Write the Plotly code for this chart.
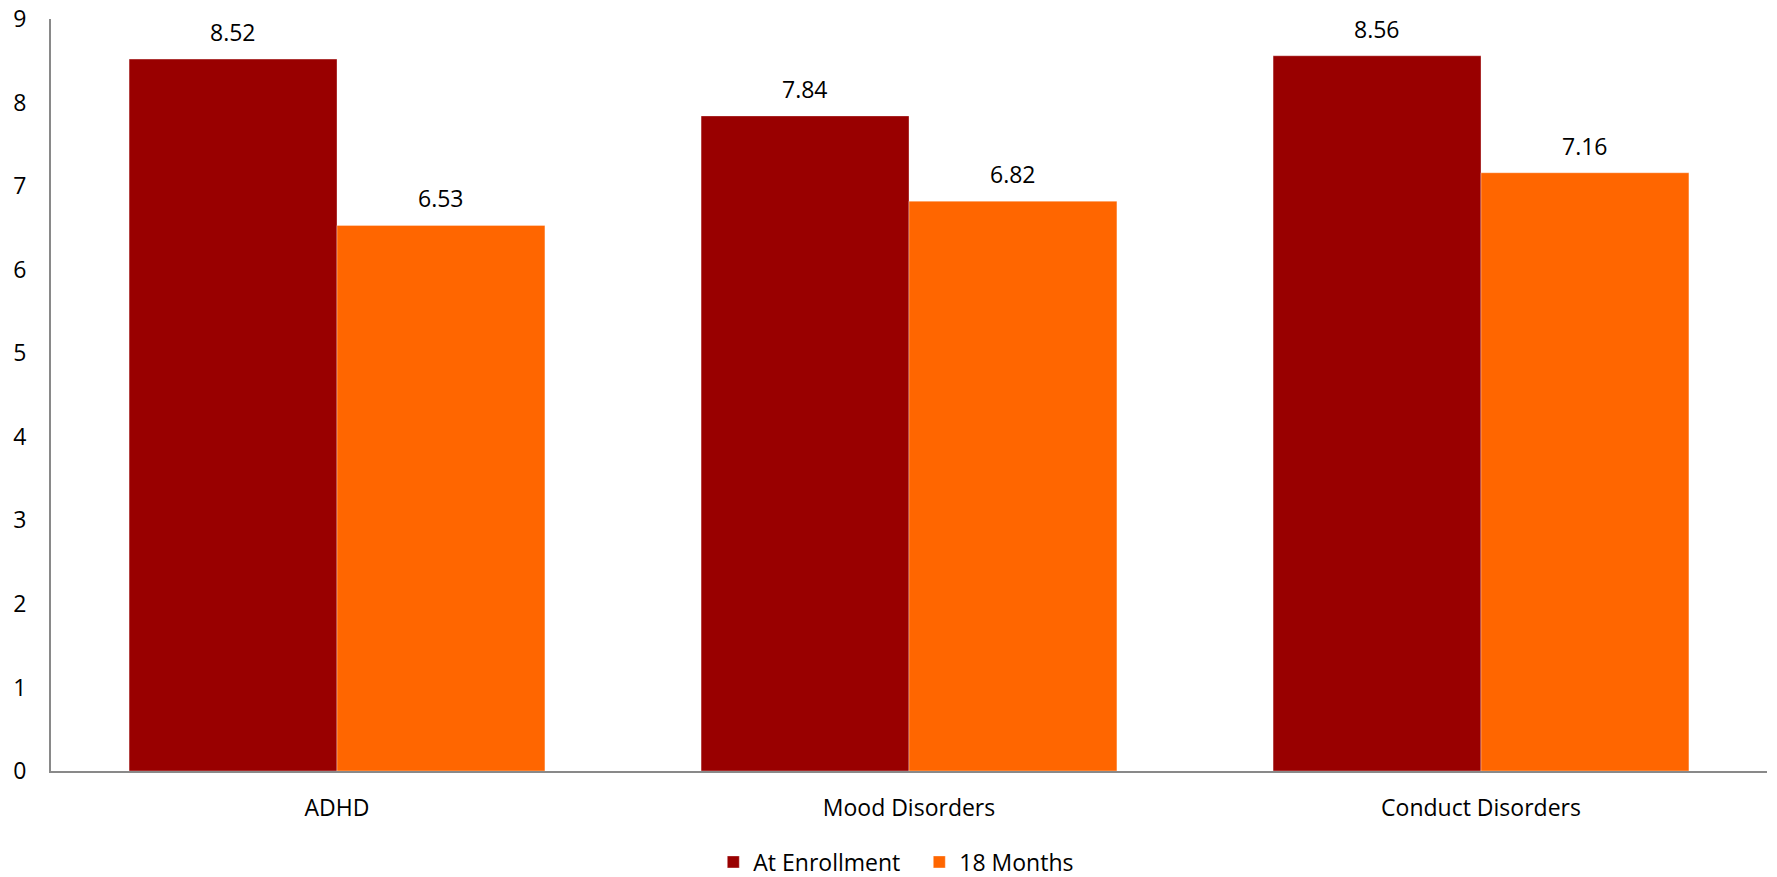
import plotly.graph_objects as go

categories = ["ADHD", "Mood Disorders", "Conduct Disorders"]
at_enrollment = [8.52, 7.84, 8.56]
months_18 = [6.53, 6.82, 7.16]
y_ticks = [0, 1, 2, 3, 4, 5, 6, 7, 8, 9]

FONT = "Open Sans"
RED = "#990000"
ORANGE = "#FF6600"
SIZE = 23

fig = go.Figure()
fig.add_trace(go.Bar(
    name="At Enrollment", x=categories, y=at_enrollment,
    marker=dict(color=RED, line=dict(color="rgba(255,255,255,0.35)", width=1)),
))
fig.add_trace(go.Bar(
    name="18 Months", x=categories, y=months_18,
    marker=dict(color=ORANGE, line=dict(color="rgba(255,255,255,0.35)", width=1)),
))

# value labels above each bar, shifted onto the bar's half of the group
half_bar_px = 104
for series, shift in ((at_enrollment, -half_bar_px), (months_18, half_bar_px)):
    for cat, val in zip(categories, series):
        fig.add_annotation(
            x=cat, y=val, text=f"{val:.2f}", showarrow=False,
            xshift=shift, yshift=27, yanchor="middle",
            font=dict(family=FONT, size=SIZE, color="#000000"),
        )

fig.update_layout(
    width=1777, height=877,
    margin=dict(l=51, r=10, t=19, b=106, autoexpand=False),
    paper_bgcolor="white", plot_bgcolor="white",
    barmode="group", bargap=0.273, bargroupgap=0,
    font=dict(family=FONT, size=SIZE, color="#000000"),
    showlegend=True,
    legend=dict(
        orientation="h", x=0.506, xanchor="center", y=-0.121, yanchor="middle",
        font=dict(family=FONT, size=SIZE, color="#000000"),
        itemwidth=30, traceorder="normal", entrywidth=161,
    ),
    xaxis=dict(
        showline=True, linecolor="#898989", linewidth=2,
        showgrid=False, ticks="", ticklabelstandoff=15,
        tickfont=dict(family=FONT, size=SIZE),
    ),
    yaxis=dict(
        range=[0, 9], tickvals=y_ticks, showline=True, linecolor="#898989",
        linewidth=2, showgrid=False, zeroline=False, ticks="",
        ticklabelstandoff=18, tickfont=dict(family=FONT, size=SIZE),
    ),
)

fig.write_html("out.html")
